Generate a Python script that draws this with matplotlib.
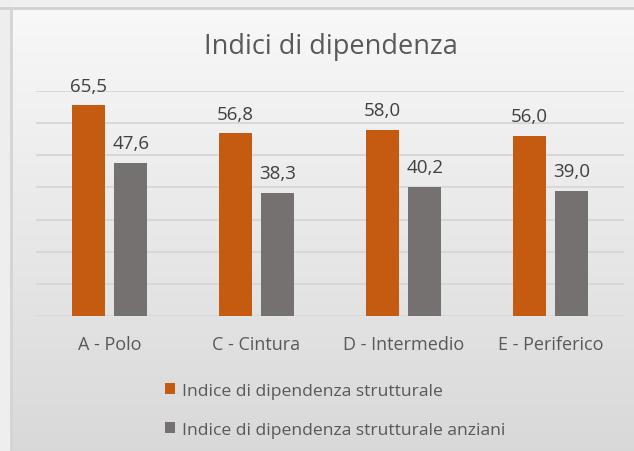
import numpy as np
import matplotlib.pyplot as plt

# data
categories = ["A - Polo", "C - Cintura", "D - Intermedio", "E - Periferico"]
strutturale = [65.5, 56.8, 58.0, 56.0]
anziani = [47.6, 38.3, 40.2, 39.0]
series_names = ["Indice di dipendenza strutturale",
                "Indice di dipendenza strutturale anziani"]

plt.rcParams['font.family'] = ['Open Sans', 'DejaVu Sans']

fig = plt.figure(figsize=(6.34, 4.52), dpi=100)

# background gradient + frame
bg = fig.add_axes([0, 0, 1, 1], zorder=-1)
grad = np.linspace(0.975, 0.85, 256).reshape(-1, 1)
bg.imshow(np.dstack([grad, grad, grad]), aspect='auto', extent=[0, 1, 0, 1])
bg.axhspan(1 - 8 / 452, 1, color='#efefef')
bg.axvspan(0, 10 / 634, color='#eeeeee')
bg.axhline(1 - 9 / 452, color='#d0d0d0', lw=2)
bg.axvline(11 / 634, ymax=1 - 9 / 452, color='#d4d4d4', lw=2)
bg.set_xlim(0, 1)
bg.set_ylim(0, 1)
bg.axis('off')

ax = fig.add_axes([36 / 634, 135 / 452, 588 / 634, 225 / 452])
ax.patch.set_alpha(0)
x = np.arange(len(categories))
w = 0.225
b1 = ax.bar(x - 0.145, strutturale, w, color='#C55A11', label=series_names[0], zorder=3)
b2 = ax.bar(x + 0.145, anziani, w, color='#767171', label=series_names[1], zorder=3)

for bars, vals in ((b1, strutturale), (b2, anziani)):
    for r, v in zip(bars, vals):
        ax.text(r.get_x() + r.get_width() / 2, v + 3.4, f"{v:.1f}".replace('.', ','),
                ha='center', va='bottom', fontsize=13.5, color='#404040')

ax.set_xlim(-0.5, 3.5)
ax.set_ylim(0, 70)
ax.set_yticks(np.arange(0, 71, 10))
ax.yaxis.grid(True, color='#d6d6d6', lw=1.3, zorder=0)
ax.tick_params(left=False, labelleft=False, bottom=False)
ax.set_xticks(x)
ax.set_xticklabels(categories, fontsize=13, color='#595959')
ax.tick_params(axis='x', pad=10)
for s in ax.spines.values():
    s.set_visible(False)

fig.text(331 / 634, 1 - 47 / 452, "Indici di dipendenza", ha='center', va='center',
         fontsize=19.5, color='#595959')

fig.legend(handles=[b1, b2], labels=series_names, loc='upper left',
           bbox_to_anchor=(151 / 634, 1 - 370 / 452), frameon=False, ncol=1,
           fontsize=12.6, labelcolor='#595959', handlelength=0.57, handleheight=0.57,
           handletextpad=0.4, labelspacing=1.3, borderpad=0.3)

fig.savefig("out.png", dpi=100)
